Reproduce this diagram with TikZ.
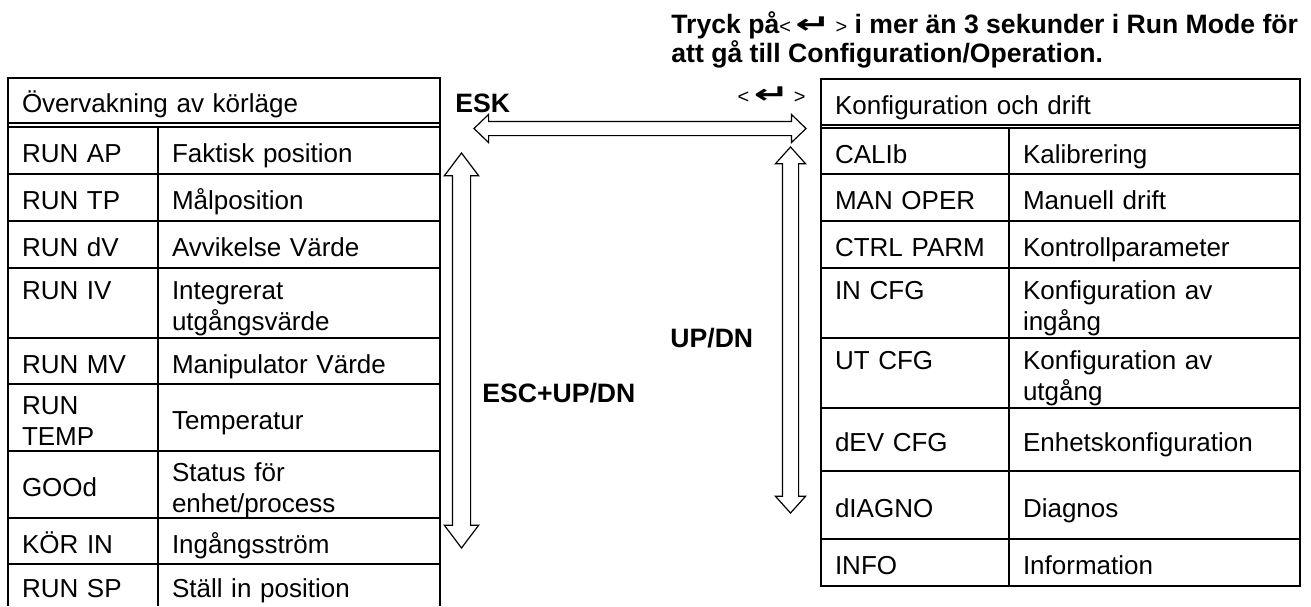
\documentclass[tikz,border=0pt]{standalone}
\usepackage{fontspec}
\usepackage{graphicx}
\setmainfont{Liberation Sans}
\newfontfamily\symfont{DejaVu Sans}
\usetikzlibrary{positioning,shapes.arrows}

% strut so one- and two-line cells sit on the same grid
\newcommand{\cellstrut}{\rule[-3pt]{0pt}{18pt}}
% the <enter> key
\newcommand{\enterkey}{{\mdseries\fontsize{10}{12}\selectfont<}\,{\symfont\bfseries\scalebox{1.6}[1]{↵}}\,{\mdseries\fontsize{10}{12}\selectfont>}}

\tikzset{
    cell/.style={draw, rectangle, line width=0.9pt, outer sep=0pt, inner xsep=7pt, inner ysep=0pt,
        align=left, execute at begin node={\lineskiplimit=-20pt\cellstrut}, execute at end node=\cellstrut},
    lkey/.style={cell, text width=61pt},
    lval/.style={cell, text width=127pt},
    rkey/.style={cell, text width=80pt},
    rval/.style={cell, text width=131.5pt},
    keyarrow/.style={double arrow, draw, line width=0.6pt, inner xsep=0pt, double arrow head indent=0pt},
    tag/.style={font=\fontsize{13.3}{15.5}\selectfont\bfseries, inner sep=0pt, anchor=base west}
}

\begin{document}
\begin{tikzpicture}[x=0.5pt, y=-0.5pt, font=\fontsize{13}{15.5}\selectfont]
        \useasboundingbox (0,0) rectangle (1311,606);

        % run mode
        \node[cell, text width=202pt, minimum height=22.5pt, anchor=north west] (lhead) at (8,78) {Övervakning av körläge};
        \node[lkey, minimum height=23.5pt, below=2pt of lhead.south west, anchor=north west] (ap) {RUN AP};
        \node[lval, minimum height=23.5pt, right=0pt of ap] (apv) {Faktisk position};
        \node[lkey, minimum height=23.5pt, below=0pt of ap] (tp) {RUN TP};
        \node[lval, minimum height=23.5pt, right=0pt of tp] (tpv) {Målposition};
        \node[lkey, minimum height=23.5pt, below=0pt of tp] (dv) {RUN dV};
        \node[lval, minimum height=23.5pt, right=0pt of dv] (dvv) {Avvikelse Värde};
        \node[lkey, minimum height=35pt, below=0pt of dv] (iv) {RUN IV\\ \mbox{}};
        \node[lval, minimum height=35pt, right=0pt of iv] (ivv) {Integrerat\\utgångsvärde};
        \node[lkey, minimum height=23pt, below=0pt of iv] (mv) {RUN MV};
        \node[lval, minimum height=23pt, right=0pt of mv] (mvv) {Manipulator Värde};
        \node[lkey, minimum height=33.5pt, below=0pt of mv] (temp) {RUN\\TEMP};
        \node[lval, minimum height=33.5pt, right=0pt of temp] (tempv) {Temperatur};
        \node[lkey, minimum height=33.5pt, below=0pt of temp] (good) {GOOd};
        \node[lval, minimum height=33.5pt, right=0pt of good] (goodv) {Status för\\enhet/process};
        \node[lkey, minimum height=23pt, below=0pt of good] (korin) {KÖR IN};
        \node[lval, minimum height=23pt, right=0pt of korin] (korinv) {Ingångsström};
        % last row runs on past the page edge
        \node[lkey, draw=none, minimum height=21pt, below=0pt of korin] (sp) {RUN SP};
        \node[lval, draw=none, minimum height=21pt, right=0pt of sp] (spv) {Ställ in position};
        \draw[line width=0.9pt] (korin.south west) -- (sp.south west);
        \draw[line width=0.9pt] (korin.south east) -- (sp.south east);
        \draw[line width=0.9pt] (korinv.south east) -- (spv.south east);
        \draw[line width=0.9pt] (lhead.south west) -- (ap.north west);
        \draw[line width=0.9pt] (lhead.south east) -- (apv.north east);

        % configuration and operation
        \node[cell, text width=225.5pt, minimum height=23pt, anchor=north west] (rhead) at (821,79) {Konfiguration och drift};
        \node[rkey, minimum height=23pt, below=1.5pt of rhead.south west, anchor=north west] (calib) {CALIb};
        \node[rval, minimum height=23pt, right=0pt of calib] (calibv) {Kalibrering};
        \node[rkey, minimum height=23.5pt, below=0pt of calib] (man) {MAN OPER};
        \node[rval, minimum height=23.5pt, right=0pt of man] (manv) {Manuell drift};
        \node[rkey, minimum height=23.5pt, below=0pt of man] (ctrl) {CTRL PARM};
        \node[rval, minimum height=23.5pt, right=0pt of ctrl] (ctrlv) {Kontrollparameter};
        \node[rkey, minimum height=35pt, below=0pt of ctrl] (incfg) {IN CFG\\ \mbox{}};
        \node[rval, minimum height=35pt, right=0pt of incfg] (incfgv) {Konfiguration av\\ingång};
        \node[rkey, minimum height=35pt, below=0pt of incfg] (utcfg) {UT CFG\\ \mbox{}};
        \node[rval, minimum height=35pt, right=0pt of utcfg] (utcfgv) {Konfiguration av\\utgång};
        \node[rkey, minimum height=31.5pt, below=0pt of utcfg] (devcfg) {dEV CFG};
        \node[rval, minimum height=31.5pt, right=0pt of devcfg] (devcfgv) {Enhetskonfiguration};
        \node[rkey, minimum height=34pt, below=0pt of devcfg] (diag) {dIAGNO};
        \node[rval, minimum height=34pt, right=0pt of diag] (diagv) {Diagnos};
        \node[rkey, minimum height=23.5pt, below=0pt of diag] (info) {INFO};
        \node[rval, minimum height=23.5pt, right=0pt of info] (infov) {Information};
        \draw[line width=0.9pt] (rhead.south west) -- (calib.north west);
        \draw[line width=0.9pt] (rhead.south east) -- (calibv.north east);

        % key arrows
        \node[keyarrow, minimum height=166pt, inner ysep=3.25pt, double arrow head extend=3.5pt, double arrow tip angle=88] (esk) at (640,128.5) {};
        \node[keyarrow, rotate=90, minimum height=197.5pt, inner ysep=4.25pt, double arrow head extend=4pt, double arrow tip angle=74] (escud) at (461.5,350.5) {};
        \node[keyarrow, rotate=90, minimum height=183pt, inner ysep=3.75pt, double arrow head extend=3.5pt, double arrow tip angle=84] (updn) at (790.5,330) {};

        \node[tag] (esklbl) at (455,112) {ESK};
        \node[tag, anchor=base east] (enter) at (806,103) {\enterkey};
        \node[tag] (updnlbl) at (670,347) {UP/DN};
        \node[tag] (escudlbl) at (482,402) {ESC+UP/DN};
        \node[tag] (note) at (671,33) {Tryck på\enterkey{} i mer än 3 sekunder i Run Mode för};
        \node[tag, below=14.5pt of note.base west, anchor=base west] (note2) {att gå till Configuration/Operation.};
    \end{tikzpicture}
\end{document}
